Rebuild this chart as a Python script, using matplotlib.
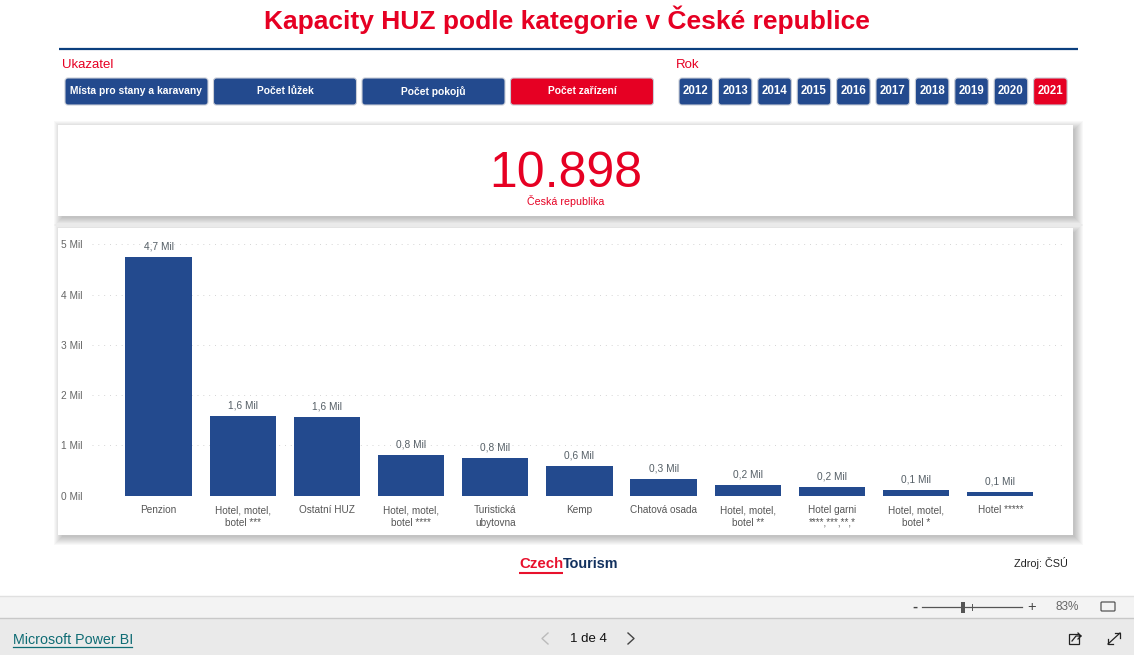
import matplotlib
matplotlib.use('Agg')
import matplotlib.pyplot as plt
from matplotlib.patches import Rectangle, FancyBboxPatch

plt.rcParams['font.family'] = ['Liberation Sans', 'DejaVu Sans']

# Data
categories = ['Penzion', 'Hotel, motel,\nbotel ***', 'Ostatní HUZ', 'Hotel, motel,\nbotel ****',
              'Turistická\nubytovna', 'Kemp', 'Chatová osada', 'Hotel, motel,\nbotel **',
              'Hotel garni\n****,***,**,*', 'Hotel, motel,\nbotel *', 'Hotel *****']
values = [4.74, 1.59, 1.56, 0.81, 0.755, 0.585, 0.325, 0.21, 0.165, 0.113, 0.073]
value_labels = ['4,7 Mil', '1,6 Mil', '1,6 Mil', '0,8 Mil', '0,8 Mil', '0,6 Mil',
                '0,3 Mil', '0,2 Mil', '0,2 Mil', '0,1 Mil', '0,1 Mil']
y_ticks = [0, 1, 2, 3, 4, 5]
y_tick_labels = ['0 Mil', '1 Mil', '2 Mil', '3 Mil', '4 Mil', '5 Mil']
indicators = ['Místa pro stany a karavany', 'Počet lůžek', 'Počet pokojů', 'Počet zařízení']
years = ['2012', '2013', '2014', '2015', '2016', '2017', '2018', '2019', '2020', '2021']
total = '10.898'

BLUE = '#234A8E'
RED = '#E60023'
W, H = 1134, 655

fig = plt.figure(figsize=(W / 100, H / 100), dpi=100, facecolor='white')

# background layer in pixel coordinates
bg = fig.add_axes([0, 0, 1, 1])
bg.set_xlim(0, W)
bg.set_ylim(H, 0)
bg.axis('off')


def card(x0, y0, x1, y1):
    # soft shadow to the lower right, then the white card
    for i in range(9):
        grow = 7 - i
        bg.add_patch(Rectangle((x0 + 3 - grow, y0 + 3 - grow), x1 - x0 + 2 * grow, y1 - y0 + 2 * grow,
                               fc='black', ec='none', alpha=0.028, zorder=1))
    bg.add_patch(Rectangle((x0, y0), x1 - x0, y1 - y0, fc='white', ec='none', zorder=2))


def button(x0, x1, label, color, size):
    bg.add_patch(FancyBboxPatch((x0 + 3, 81), x1 - x0 - 6, 21, boxstyle='round,pad=3',
                                fc=color, ec='#C9CDD6', lw=0.8, zorder=3))
    bg.text((x0 + x1) / 2, 91.5, label, color='white', fontsize=size, fontweight='bold',
            ha='center', va='center', zorder=4)


# header
bg.text(567, 20, 'Kapacity HUZ podle kategorie v České republice', color=RED, fontsize=19,
        fontweight='bold', ha='center', va='center')
bg.plot([59, 1078], [48.5, 48.5], color='#0B3F7E', lw=1.6, solid_capstyle='butt')
bg.text(62, 65, 'Ukazatel', color=RED, fontsize=9.5, ha='left', va='center')
bg.text(676, 65, 'Rok', color=RED, fontsize=9.5, ha='left', va='center')

# slicers
for i, label in enumerate(indicators):
    x0 = 65 + i * 148.5
    button(x0, x0 + 143, label, RED if i == 3 else BLUE, 7.4)
for i, label in enumerate(years):
    x0 = 679 + i * 39.4
    button(x0, x0 + 33.5, label, RED if i == 9 else BLUE, 8.3)

# cards
card(58, 125, 1073, 216)
card(58, 228, 1073, 535)
bg.text(566, 187, total, color=RED, fontsize=36, ha='center', va='baseline', zorder=4)
bg.text(566, 201, 'Česká republika', color=RED, fontsize=7.7, ha='center', va='center', zorder=4)

# footer of the report
bg.text(519, 564.5, 'Czech', color='#E8112D', fontsize=10.8, fontweight='bold', ha='left', va='center')
bg.text(563, 564.5, 'Tourism', color='#12315F', fontsize=10.4, fontweight='bold', ha='left', va='center')
bg.plot([519, 563], [572.5, 572.5], color='#E8112D', lw=1.5, solid_capstyle='butt')
bg.text(1068, 563, 'Zdroj: ČSÚ', color='#222222', fontsize=7.8, ha='right', va='center')

# Power BI toolbar
bg.add_patch(Rectangle((0, 596), W, 22, fc='#F3F3F3', ec='none'))
bg.add_patch(Rectangle((0, 618), W, 37, fc='#EAEAEA', ec='none'))
bg.plot([0, W], [595.5, 595.5], color='#E0E0E0', lw=1)
bg.plot([0, W], [618, 618], color='#C8C8C8', lw=1)
bg.text(915, 606.5, '-', color='#444444', fontsize=11, fontweight='bold', ha='center', va='center')
bg.plot([922, 1022], [607, 607], color='#555555', lw=0.9)
bg.add_patch(Rectangle((961, 602), 4, 11, fc='#555555', ec='none'))
bg.plot([972, 972], [604, 610], color='#555555', lw=0.7)
bg.text(1032, 606.5, '+', color='#444444', fontsize=10.5, ha='center', va='center')
bg.text(1067, 607, '83%', color='#666666', fontsize=8.5, ha='center', va='center')
bg.add_patch(FancyBboxPatch((1102, 603), 12, 7, boxstyle='round,pad=1', fc='none', ec='#555555', lw=0.9))
bg.text(13, 639.5, 'Microsoft Power BI', color='#0F6C74', fontsize=10.3, ha='left', va='center')
bg.plot([13, 132], [646.5, 646.5], color='#0F6C74', lw=0.9)
bg.plot([548, 542, 548], [633, 638.5, 644], color='#BBBBBB', lw=1)
bg.text(588, 638.5, '1 de 4', color='#111111', fontsize=9.5, ha='center', va='center')
bg.plot([628, 634, 628], [633, 638.5, 644], color='#444444', lw=1)
# share and expand icons
bg.add_patch(Rectangle((1069, 634), 10, 10, fc='none', ec='#222222', lw=0.9))
bg.plot([1072, 1076, 1081], [641, 636, 636], color='#222222', lw=0.9)
bg.plot([1078, 1081, 1078], [633, 636, 639], color='#222222', lw=0.9)
bg.plot([1108, 1120], [644, 633], color='#222222', lw=0.9)
bg.plot([1108, 1108, 1113], [639, 644, 644], color='#222222', lw=0.9)
bg.plot([1115, 1120, 1120], [633, 633, 638], color='#222222', lw=0.9)

# bar chart: y 0 at px 495.7, y 5 at px 244.4, gridlines from px 92 to 1066
ax = fig.add_axes([92 / W, 1 - 495.7 / H, (1066 - 92) / W, (495.7 - 244.4) / H], zorder=5)
ax.patch.set_alpha(0)
x = list(range(len(categories)))
ax.bar(x, values, width=0.787, color=BLUE, zorder=3)
ax.set_xlim(-0.79, 10.78)
ax.set_ylim(0, 5)
ax.set_yticks(y_ticks)
ax.set_yticklabels(y_tick_labels, fontsize=7.3, color='#666666')
ax.set_xticks(x)
ax.set_xticklabels(categories, fontsize=7.2, color='#555555', linespacing=1.3)
ax.tick_params(axis='both', length=0)
ax.tick_params(axis='x', pad=7)
ax.tick_params(axis='y', pad=6.5)
ax.grid(axis='y', color='#D5D5D5', linestyle=(0, (1, 5)), lw=0.7)
ax.set_axisbelow(True)
for s in ax.spines.values():
    s.set_visible(False)
for xi, v, lab in zip(x, values, value_labels):
    ax.annotate(lab, (xi, v), xytext=(0, 4), textcoords='offset points', ha='center', va='bottom',
                fontsize=7.3, color='#555F66', clip_on=False)

fig.savefig('out.png', dpi=100)
